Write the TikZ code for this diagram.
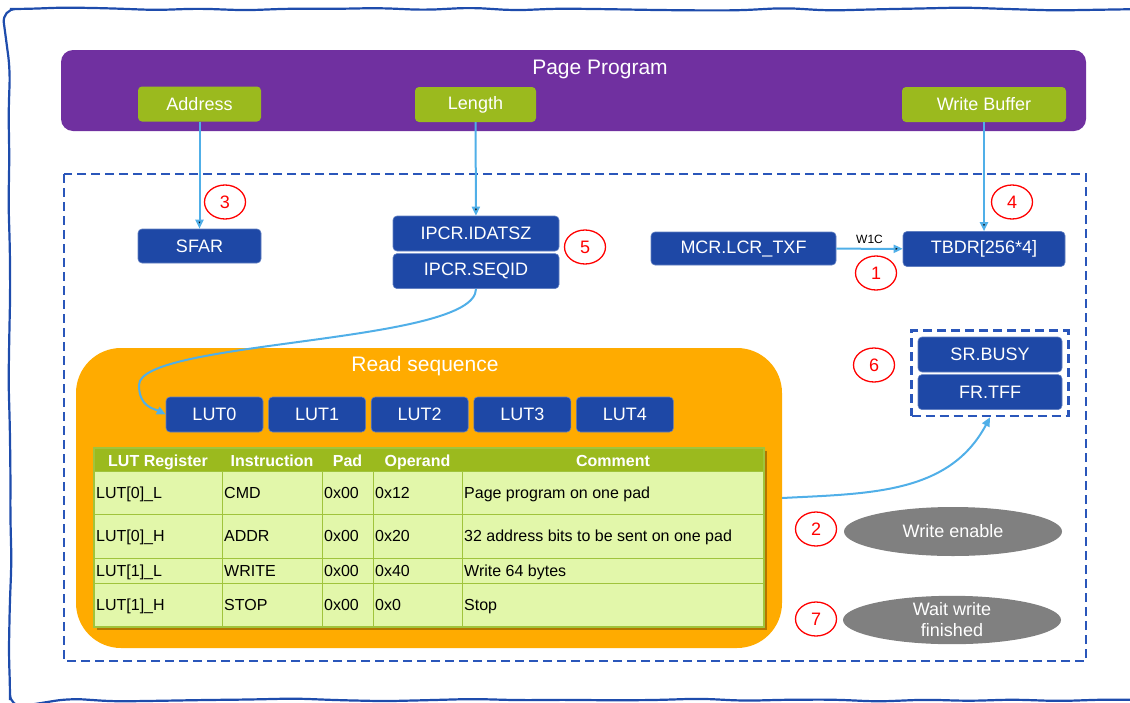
\documentclass[tikz,border=0pt]{standalone}
\usepackage{fontspec}
\setmainfont{Liberation Sans}
\usetikzlibrary{arrows.meta,positioning,shapes.geometric,fit,decorations.pathmorphing}

\definecolor{pagepurple}{RGB}{112,48,160}
\definecolor{paramgreen}{RGB}{155,186,30}
\definecolor{regblue}{RGB}{30,72,166}
\definecolor{frameblue}{RGB}{42,86,186}
\definecolor{edgeblue}{RGB}{30,76,172}
\definecolor{seqorange}{RGB}{255,171,0}
\definecolor{flowblue}{RGB}{80,175,232}
\definecolor{rowgreen}{RGB}{226,247,170}
\definecolor{gridgreen}{RGB}{160,196,60}
\definecolor{opgray}{RGB}{128,128,128}

\newcommand{\lblfont}{\fontsize{18}{21}\selectfont}
\newcommand{\titlefont}{\fontsize{21}{24}\selectfont}
\newcommand{\cellfont}{\fontsize{16}{18}\selectfont}

\begin{document}
\begin{tikzpicture}[x=1pt,y=1pt,>={Triangle[length=9pt,width=8pt]}]
		\tikzstyle{param}=[fill=paramgreen, rounded corners=4pt, text=white, font=\lblfont, minimum height=35pt, inner sep=0pt]
		\tikzstyle{reg}=[fill=regblue, draw=regblue!70!white, line width=0.6pt, rounded corners=4pt, text=white, font=\lblfont, minimum height=35pt, inner sep=0pt]
		\tikzstyle{stepno}=[ellipse, draw=red, line width=1.3pt, text=red, font=\lblfont, minimum width=41pt, minimum height=34pt, inner sep=0pt]
		\tikzstyle{phase}=[ellipse, fill=opgray, text=white, font=\lblfont, minimum width=218pt, minimum height=49pt, inner sep=0pt, align=center]
		\tikzstyle{flow}=[->, draw=flowblue, line width=2pt]
		\tikzstyle{dashframe}=[draw=frameblue, line width=2.8pt, dash pattern=on 9pt off 5pt]
		\tikzstyle{cell}=[font=\cellfont, inner sep=0pt, text height=11.5pt, text depth=0pt, anchor=west]
		\useasboundingbox (0,0) rectangle (1130,-702);
		\pgfmathsetseed{12}
		\draw[edgeblue, line width=2.2pt, rounded corners=14pt, decorate, decoration={random steps, segment length=45pt, amplitude=1.6pt}]
			(1145,-9) -- (10,-9) -- (10,-700) -- (1145,-700);

		\node[fill=pagepurple, rounded corners=12pt, minimum width=1025pt, minimum height=81pt, inner sep=0pt] (page) at (573.5,-90.5) {};
		\node[text=white, font=\titlefont] (pagetitle) at (600,-69) {Page Program};
		\node[param, minimum width=123pt] (addr) at (199.5,-104) {Address};
		\node[param, minimum width=121pt] (len) at (475.5,-104.5) {Length};
		\node[param, minimum width=164pt] (wbuf) at (984,-104.5) {Write Buffer};

		\draw[dashframe] (64,-174) rectangle (1086,-661);

		\node[reg, minimum width=123pt, minimum height=34pt] (sfar) at (199.5,-246) {SFAR};
		\node[reg, minimum width=166pt] (idatsz) at (476,-233.5) {IPCR.IDATSZ};
		\node[reg, minimum width=166pt, below=2pt of idatsz] (seqid) {IPCR.SEQID};
		\node[reg, minimum width=185pt, minimum height=33pt] (txf) at (743.5,-248.5) {MCR.LCR\_TXF};
		\node[reg, minimum width=162pt] (tbdr) at (984,-249) {TBDR[256*4]};
		\node[reg, minimum width=144pt] (busy) at (990,-354.5) {SR.BUSY};
		\node[reg, minimum width=144pt, below=2pt of busy] (tff) {FR.TFF};
		\node[dashframe, fit=(busy)(tff), inner sep=6pt] (status) {};

		\node[fill=seqorange, rounded corners=45pt, minimum width=706pt, minimum height=300pt, inner sep=0pt] (readseq) at (429,-498) {};
		\node[text=white, font=\titlefont] (readtitle) at (425,-366) {Read sequence};
		\node[reg, minimum width=97pt] (lut0) at (214.5,-414.5) {LUT0};
		\foreach \i [remember=\i as \last (initially 0)] in {1,...,4}
			\node[reg, minimum width=97pt, right=5pt of lut\last] (lut\i) {LUT\i};

		\fill[black, opacity=.3] (97,-451) rectangle (767,-630);
		\fill[paramgreen] (94,-448) rectangle (764,-471);
		\fill[rowgreen] (94,-471) rectangle (764,-627);
		\foreach \y in {471,514,558,583}
			\draw[gridgreen, line width=1pt] (94,-\y) -- (764,-\y);
		\foreach \x in {222,322,373,462}
			\draw[gridgreen, line width=1pt] (\x,-471) -- (\x,-627);
		\draw[gridgreen, line width=1.2pt] (94,-448) rectangle (764,-627);
		\foreach \x/\t [count=\c] in {158/LUT Register, 272/Instruction, 347.5/Pad, 417.5/Operand, 613/Comment}
			\node[cell, anchor=center, text=white, font=\bfseries\cellfont] (head\c) at (\x,-461) {\t};
		\foreach \y/\lutreg/\instr/\oper/\remark [count=\r] in {493/LUT[0]\_L/CMD/0x12/Page program on one pad, 536/LUT[0]\_H/ADDR/0x20/32 address bits to be sent on one pad, 570.5/LUT[1]\_L/WRITE/0x40/Write 64 bytes, 605/LUT[1]\_H/STOP/0x0/Stop} {
			\node[cell] (lutreg\r) at (96,-\y) {\lutreg};
			\node[cell] (instr\r) at (224,-\y) {\instr};
			\node[cell] (pad\r) at (324,-\y) {0x00};
			\node[cell] (oper\r) at (375,-\y) {\oper};
			\node[cell] (remark\r) at (464,-\y) {\remark};
		}

		\node[stepno] (s1) at (876,-273) {1};
		\node[stepno] (s2) at (816,-529) {2};
		\node[stepno] (s3) at (225,-202) {3};
		\node[stepno] (s4) at (1012,-202) {4};
		\node[stepno] (s5) at (585,-247) {5};
		\node[stepno] (s6) at (874,-365) {6};
		\node[stepno] (s7) at (816,-619) {7};
		\node[phase] (wen) at (953,-531.5) {Write enable};
		\node[phase, minimum height=48pt] (wwait) at (952,-620) {Wait write\\finished};

		\coordinate (turn) at (139,-385);
		\path[flow]
		(addr) edge (sfar)
		(len) edge (idatsz)
		(wbuf) edge (tbdr)
		(txf) edge node[above, yshift=1pt, text=black, font=\fontsize{12}{14}\selectfont] {W1C} (tbdr);
		\draw[flow] (seqid.south) .. controls +(0,-55) and +(0,45) .. (turn) .. controls +(0,-22) and +(-12,6) .. (lut0.west);
		\draw[flow] (readseq.east) to[out=3, in=-118] (status.south);
	\end{tikzpicture}
\end{document}
